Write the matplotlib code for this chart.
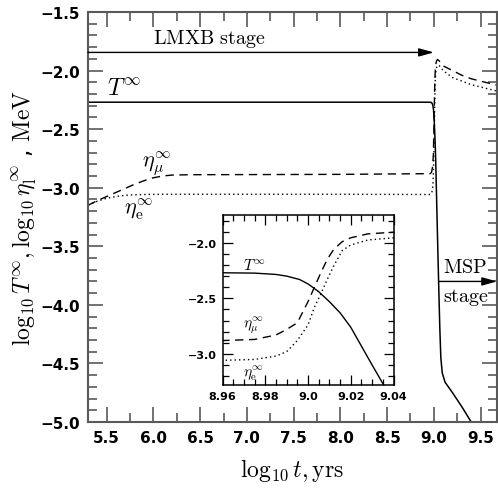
import numpy as np
import matplotlib
matplotlib.use("Agg")
import matplotlib.pyplot as plt
from matplotlib.ticker import MultipleLocator, FixedLocator

plt.rcParams['mathtext.fontset'] = 'cm'
plt.rcParams['font.family'] = 'DejaVu Sans'

# log10 t [yrs] and log10 T_inf [MeV]
t_T = [5.30, 8.96, 8.975, 8.985, 8.99, 8.996, 9.0, 9.005, 9.01, 9.015,
       9.02, 9.025, 9.03, 9.036, 9.045, 9.055, 9.065, 9.075, 9.09, 9.12,
       9.2, 9.3, 9.4, 9.5]
T_inf = [-2.27, -2.27, -2.273, -2.285, -2.30, -2.33, -2.37, -2.44, -2.53, -2.63,
         -2.76, -2.93, -3.10, -3.30, -3.60, -3.92, -4.22, -4.45, -4.58, -4.66,
         -4.75, -4.87, -5.0, -5.13]

# chemical potentials, same time grid for both leptons
t_eta = [5.30, 5.40, 5.50, 5.60, 5.70, 5.80, 5.90, 6.00, 6.10, 6.20,
         6.40, 7.00, 8.00, 8.96, 8.975, 8.985, 8.99, 8.995, 9.0, 9.003,
         9.006, 9.009, 9.012, 9.016, 9.02, 9.028, 9.04, 9.06, 9.1, 9.2,
         9.3, 9.4, 9.5, 9.6, 9.7]
eta_mu = [-3.15, -3.11, -3.075, -3.04, -3.005, -2.97, -2.94, -2.915, -2.90, -2.892,
          -2.889, -2.888, -2.886, -2.88, -2.87, -2.83, -2.78, -2.72, -2.53, -2.40,
          -2.27, -2.15, -2.06, -1.99, -1.955, -1.92, -1.905, -1.92, -1.96, -2.00,
          -2.04, -2.07, -2.09, -2.11, -2.13]
eta_e = [-3.15, -3.115, -3.09, -3.075, -3.065, -3.06, -3.058, -3.057, -3.056, -3.056,
         -3.056, -3.056, -3.056, -3.058, -3.05, -3.02, -2.98, -2.88, -2.74, -2.58,
         -2.46, -2.33, -2.21, -2.07, -2.02, -1.975, -1.955, -1.96, -2.00, -2.06,
         -2.09, -2.12, -2.14, -2.16, -2.18]

main_xticks = [5.5, 6.0, 6.5, 7.0, 7.5, 8.0, 8.5, 9.0, 9.5]
main_yticks = [-5.0, -4.5, -4.0, -3.5, -3.0, -2.5, -2.0, -1.5]
ins_xticks = [8.96, 8.98, 9.0, 9.02, 9.04]
ins_xlabels = ['8.96', '8.98', '9.0', '9.02', '9.04']
ins_yticks = [-3.0, -2.5, -2.0]

lmxb_y = -1.845
msp_y = -3.80

fig = plt.figure(figsize=(4.98, 4.89), dpi=100)
ax = fig.add_axes([88/498, 66/489, 409/498, 410/489])

spc = '0.35'
ax.plot(t_T, T_inf, color='k', lw=1.1)
ax.plot(t_eta, eta_mu, color='k', lw=1.0, dashes=(6, 4))
ax.plot(t_eta, eta_e, color='k', lw=1.0, dashes=(1, 2.2))

ax.set_xlim(5.3, 9.676)
ax.set_ylim(-5.0, -1.5)
ax.xaxis.set_major_locator(FixedLocator(main_xticks))
ax.yaxis.set_major_locator(FixedLocator(main_yticks))
ax.xaxis.set_minor_locator(MultipleLocator(0.25))
ax.yaxis.set_minor_locator(MultipleLocator(0.1))
ax.set_xticklabels(['%.1f' % v for v in main_xticks])
ax.set_yticklabels(['\u2212%.1f' % abs(v) for v in main_yticks])
ax.tick_params(which='both', direction='in', top=True, right=True,
               color=spc, width=1.2)
ax.tick_params(which='major', length=11, labelsize=11, pad=6)
ax.tick_params(which='minor', length=6.5)
for lab in ax.get_xticklabels() + ax.get_yticklabels():
    lab.set_fontweight('bold')
for s in ax.spines.values():
    s.set_color(spc)
    s.set_linewidth(1.5)

ax.set_xlabel(r'$\log_{10}t, \mathrm{yrs}$', fontsize=17, labelpad=8)
ax.set_ylabel(r'$\log_{10}T^{\infty}, \log_{10}\eta_{\mathrm{l}}^{\infty}$ , $\mathrm{MeV}$',
              fontsize=17, labelpad=1)

# stage arrows
ax.annotate('', xy=(9.0, lmxb_y), xytext=(5.3, lmxb_y),
            arrowprops=dict(arrowstyle='-|>,head_length=0.9,head_width=0.25',
                            color='k', lw=1.0, shrinkA=0, shrinkB=0))
ax.text(6.0, lmxb_y + 0.03, r'$\mathrm{LMXB\ stage}$', fontsize=14.5, va='bottom')
ax.annotate('', xy=(9.676, msp_y), xytext=(9.05, msp_y),
            arrowprops=dict(arrowstyle='-|>,head_length=0.9,head_width=0.25',
                            color='k', lw=1.0, shrinkA=0, shrinkB=0))
ax.text(9.1, msp_y + 0.05, r'$\mathrm{MSP}$', fontsize=14.5, va='bottom')
ax.text(9.1, msp_y - 0.04, r'$\mathrm{stage}$', fontsize=14.5, va='top')

ax.text(5.5, -2.2, r'$T^{\infty}$', fontsize=17)
ax.text(5.88, -2.81, r'$\eta_{\mu}^{\infty}$', fontsize=16)
ax.text(5.69, -3.21, r'$\eta_{\mathrm{e}}^{\infty}$', fontsize=16)

# zoom on the transition
ins = fig.add_axes([222.5/498, 103/489, 171/498, 170/489])
ins.plot(t_T, T_inf, color='k', lw=1.0)
ins.plot(t_eta, eta_mu, color='k', lw=1.0, dashes=(6, 4))
ins.plot(t_eta, eta_e, color='k', lw=1.0, dashes=(1, 2.2))
ins.set_xlim(8.96, 9.04)
ins.set_ylim(-3.28, -1.75)
ins.xaxis.set_major_locator(FixedLocator(ins_xticks))
ins.set_xticklabels(ins_xlabels)
ins.yaxis.set_major_locator(FixedLocator(ins_yticks))
ins.set_yticklabels(['\u2212%.1f' % abs(v) for v in ins_yticks])
ins.xaxis.set_minor_locator(MultipleLocator(0.005))
ins.yaxis.set_minor_locator(MultipleLocator(0.1))
ins.tick_params(which='both', direction='in', top=True, right=True, width=0.9)
ins.tick_params(which='major', length=7.5, labelsize=8, pad=4)
ins.tick_params(which='minor', length=4.3)
for lab in ins.get_xticklabels() + ins.get_yticklabels():
    lab.set_fontweight('bold')
for s in ins.spines.values():
    s.set_linewidth(1.1)

ins.text(8.9697, -2.234, r'$T^{\infty}$', fontsize=11)
ins.text(8.9697, -2.76, r'$\eta_{\mu}^{\infty}$', fontsize=11)
ins.text(8.9697, -3.2, r'$\eta_{\mathrm{e}}^{\infty}$', fontsize=11)

fig.savefig('out.png', dpi=100)
